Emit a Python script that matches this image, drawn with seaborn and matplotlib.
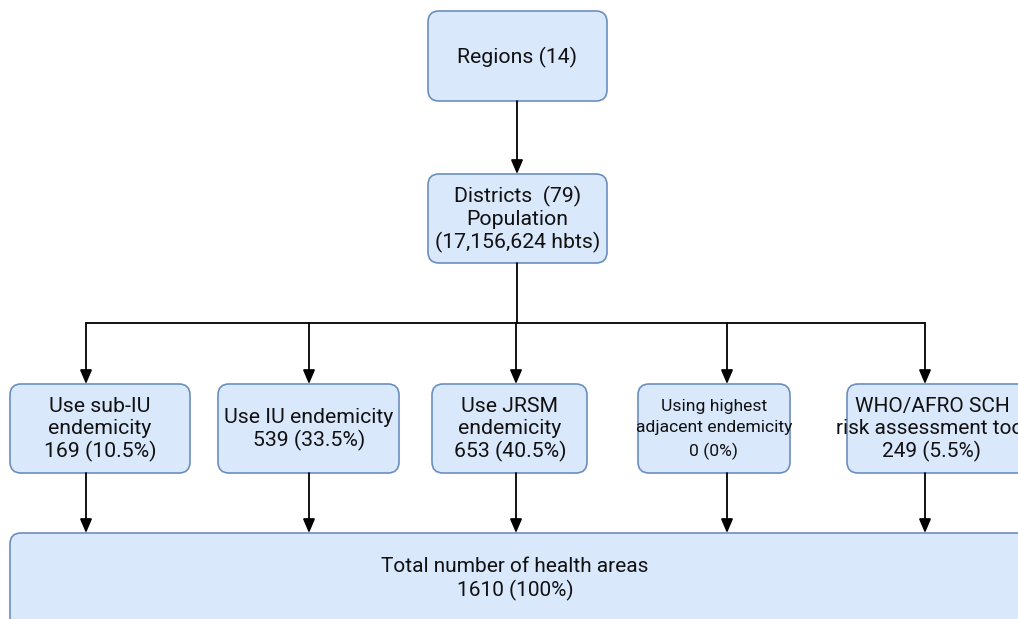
import matplotlib.pyplot as plt
import seaborn as sns
from matplotlib.patches import FancyBboxPatch

# texts of the flow chart
top_labels = ["Regions (14)", "Districts  (79)\nPopulation\n(17,156,624 hbts)"]
method_names = ["Use sub-IU\nendemicity", "Use IU endemicity", "Use JRSM\nendemicity",
                "Using highest\nadjacent endemicity", "WHO/AFRO SCH\nrisk assessment tool"]
method_counts = [169, 539, 653, 0, 249]
method_pcts = ["10.5%", "33.5%", "40.5%", "0%", "5.5%"]
total_name = "Total number of health areas"
total_count = 1610
total_pct = "100%"

# layout in pixels (x0, y0, x1, y1), y grows downwards
top_boxes = [(428, 11, 607, 101), (428, 174, 607, 263)]
method_boxes = [(10, 384, 190, 473), (218, 384, 399, 473), (432, 384, 587, 473),
                (638, 384, 790, 473), (847, 384, 1040, 473)]
method_arrow_x = [86, 309, 516, 727, 925]
method_text_x = [100, 309, 510, 714, 932]
method_font = [15.3, 15.3, 15.3, 12.6, 15.0]
method_spacing = [1.2, 1.2, 1.2, 1.55, 1.2]
total_box = (10, 533, 1040, 640)
bus_y = 323

FILL = "#dae8fc"
EDGE = "#6c8ebf"

sns.set_theme(style="white")
plt.rcParams['font.family'] = ['Roboto', 'DejaVu Sans']

fig = plt.figure(figsize=(10.18, 6.19), dpi=100)
ax = fig.add_axes([0, 0, 1, 1])
ax.set_xlim(0, 1018)
ax.set_ylim(619, 0)
ax.axis('off')


def box(ax, b, text, tx=None, size=15.3, spacing=1.2):
    x0, y0, x1, y1 = b
    p = FancyBboxPatch((x0, y0), x1 - x0, y1 - y0,
                       boxstyle="round,pad=0,rounding_size=11",
                       fc=FILL, ec=EDGE, lw=1.2)
    ax.add_patch(p)
    cx = (x0 + x1) / 2 if tx is None else tx
    ax.text(cx, (y0 + y1) / 2 + 1, text, ha='center', va='center',
            fontsize=size, color='#111111', linespacing=spacing, clip_on=True)


def arrow(ax, x, y0, y1):
    ax.annotate("", xy=(x, y1), xytext=(x, y0),
                arrowprops=dict(arrowstyle='-|>,head_length=0.7,head_width=0.3',
                                color='black', lw=1.3, shrinkA=0, shrinkB=0))


box(ax, top_boxes[0], top_labels[0])
box(ax, top_boxes[1], top_labels[1])
arrow(ax, 517, top_boxes[0][3], top_boxes[1][1])

# bus line from districts to the methods
ax.plot([517, 517], [top_boxes[1][3], bus_y], color='black', lw=1.3)
ax.plot([method_arrow_x[0], method_arrow_x[-1]], [bus_y, bus_y], color='black', lw=1.3)

for i, name in enumerate(method_names):
    label = f"{name}\n{method_counts[i]} ({method_pcts[i]})"
    box(ax, method_boxes[i], label, tx=method_text_x[i],
        size=method_font[i], spacing=method_spacing[i])
    arrow(ax, method_arrow_x[i], bus_y, method_boxes[i][1])
    arrow(ax, method_arrow_x[i], method_boxes[i][3], total_box[1])

x0, y0, x1, y1 = total_box
ax.add_patch(FancyBboxPatch((x0, y0), x1 - x0, y1 - y0,
                            boxstyle="round,pad=0,rounding_size=11",
                            fc=FILL, ec=EDGE, lw=1.2))
ax.text(515, 579, f"{total_name}\n{total_count} ({total_pct})", ha='center', va='center',
        fontsize=15.0, color='#111111', linespacing=1.2)

fig.savefig("out.png", dpi=100)
